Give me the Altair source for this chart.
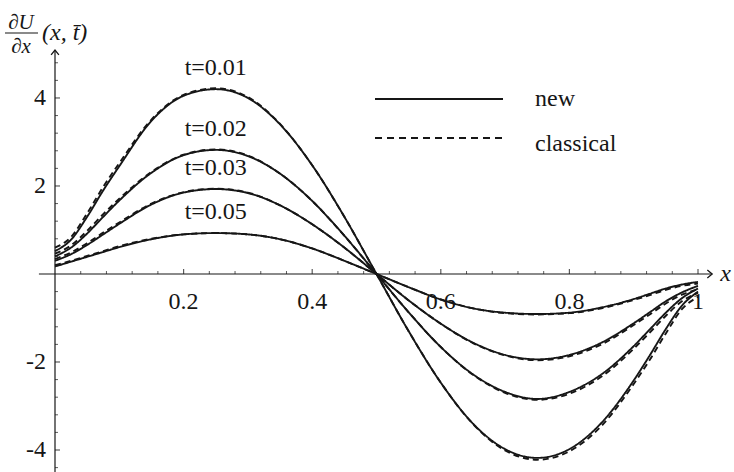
import altair as alt
import pandas as pd

# Sample positions along x
x_pts = [0.0, 0.025, 0.05, 0.075, 0.1, 0.15, 0.2, 0.25, 0.3, 0.35, 0.4, 0.45, 0.5,
         0.55, 0.6, 0.65, 0.7, 0.75, 0.8, 0.85, 0.9, 0.925, 0.95, 0.975, 1.0]

t_labels = ["t=0.01", "t=0.02", "t=0.03", "t=0.05"]

# dU/dx(x, t) for the new scheme
new_001 = [0.52, 0.78, 1.30, 1.90, 2.45, 3.48, 4.05, 4.20, 4.00, 3.40, 2.47, 1.30, 0.00,
           -1.30, -2.47, -3.40, -3.98, -4.18, -3.98, -3.38, -2.42, -1.85, -1.25, -0.72, -0.40]
new_002 = [0.40, 0.60, 0.92, 1.30, 1.67, 2.30, 2.70, 2.82, 2.68, 2.28, 1.66, 0.87, 0.00,
           -0.87, -1.66, -2.28, -2.68, -2.84, -2.68, -2.28, -1.64, -1.26, -0.88, -0.55, -0.33]
new_003 = [0.30, 0.45, 0.66, 0.90, 1.14, 1.58, 1.85, 1.93, 1.84, 1.56, 1.13, 0.60, 0.00,
           -0.60, -1.13, -1.56, -1.84, -1.94, -1.84, -1.56, -1.12, -0.87, -0.62, -0.42, -0.27]
new_005 = [0.17, 0.28, 0.39, 0.50, 0.61, 0.79, 0.90, 0.93, 0.90, 0.79, 0.58, 0.30, 0.00,
           -0.30, -0.58, -0.78, -0.88, -0.91, -0.88, -0.76, -0.57, -0.45, -0.33, -0.24, -0.18]

# dU/dx(x, t) for the classical scheme
cls_001 = [0.60, 0.84, 1.38, 1.98, 2.52, 3.51, 4.07, 4.22, 4.02, 3.41, 2.47, 1.30, 0.00,
           -1.30, -2.47, -3.41, -4.01, -4.22, -4.03, -3.45, -2.50, -1.95, -1.35, -0.80, -0.52]
cls_002 = [0.46, 0.65, 0.98, 1.36, 1.71, 2.32, 2.71, 2.83, 2.69, 2.28, 1.66, 0.87, 0.00,
           -0.87, -1.66, -2.29, -2.70, -2.86, -2.72, -2.33, -1.70, -1.33, -0.95, -0.62, -0.43]
cls_003 = [0.34, 0.49, 0.70, 0.94, 1.17, 1.60, 1.86, 1.94, 1.85, 1.56, 1.13, 0.60, 0.00,
           -0.60, -1.13, -1.57, -1.85, -1.96, -1.87, -1.60, -1.16, -0.92, -0.67, -0.47, -0.35]
cls_005 = [0.20, 0.30, 0.41, 0.52, 0.63, 0.80, 0.90, 0.93, 0.90, 0.79, 0.58, 0.30, 0.00,
           -0.30, -0.58, -0.78, -0.89, -0.92, -0.89, -0.78, -0.59, -0.48, -0.36, -0.27, -0.22]

new_vals = [new_001, new_002, new_003, new_005]
cls_vals = [cls_001, cls_002, cls_003, cls_005]

x_major = [0.2, 0.4, 0.6, 0.8, 1.0]
x_major_text = ["0.2", "0.4", "0.6", "0.8", "1"]
x_minor = [round(k * 0.04, 2) for k in range(1, 25) if k % 5]
y_major = [-4, -2, 2, 4]
y_major_text = ["-4", "-2", "2", "4"]
y_minor = [round(k * 0.4, 1) for k in range(-11, 13) if k % 5]

rows = []
for lab, nv, cv in zip(t_labels, new_vals, cls_vals):
    for method, vals in (("new", nv), ("classical", cv)):
        for x, y in zip(x_pts, vals):
            rows.append({"x": x, "y": y, "t": lab, "method": method, "series": lab + method})
df = pd.DataFrame(rows)

Y_MIN, Y_MAX = -4.5, 5.09
X_LO, X_HI = -0.025, 1.022
W, H = 643, 422
SERIF = "Times New Roman, Liberation Serif, serif"
INK = "#161616"
FS = 24

xs = alt.Scale(domain=[0, 1], nice=False, zero=False)
ys = alt.Scale(domain=[Y_MIN, Y_MAX], nice=False, zero=False)
one = pd.DataFrame({"k": [0]})

curves = alt.Chart(df).mark_line(color=INK, strokeWidth=1.9, interpolate="monotone").encode(
    x=alt.X("x:Q", scale=xs, axis=None),
    y=alt.Y("y:Q", scale=ys, axis=None),
    strokeDash=alt.StrokeDash("method:N",
                              scale=alt.Scale(domain=["new", "classical"], range=[[1, 0], [6, 4]]),
                              legend=None),
    detail="series:N",
    order=alt.Order("x:Q"),
)

# Axes crossing at the origin
x_line = alt.Chart(pd.DataFrame({"a": [X_LO], "b": [X_HI], "c": [0.0]})).mark_rule(
    color=INK, strokeWidth=1.2).encode(x="a:Q", x2="b:Q", y="c:Q")
y_line = alt.Chart(pd.DataFrame({"a": [0.0], "b": [Y_MIN], "c": [Y_MAX]})).mark_rule(
    color=INK, strokeWidth=1.2).encode(x="a:Q", y="b:Q", y2="c:Q")

x_arrow = alt.Chart(pd.DataFrame({"a": [X_HI], "c": [0.0]})).mark_point(
    shape="M-1.6,-1.3L0,0L-1.6,1.3", size=36, filled=False,
    stroke=INK, strokeWidth=1.3, opacity=1).encode(x="a:Q", y="c:Q")
y_arrow = alt.Chart(pd.DataFrame({"a": [0.0], "c": [Y_MAX]})).mark_point(
    shape="M-1.3,1.6L0,0L1.3,1.6", size=36, filled=False,
    stroke=INK, strokeWidth=1.3, opacity=1).encode(x="a:Q", y="c:Q")

xmaj_df = pd.DataFrame({"v": x_major, "label": x_major_text, "z": 0.0})
ymaj_df = pd.DataFrame({"v": y_major, "label": y_major_text, "z": 0.0})
xmin_df = pd.DataFrame({"v": x_minor, "z": 0.0})
ymin_df = pd.DataFrame({"v": y_minor, "z": 0.0})

x_ticks_major = alt.Chart(xmaj_df).mark_tick(orient="vertical", size=5, thickness=1.2,
                                             color=INK, yOffset=-2.5).encode(x="v:Q", y="z:Q")
x_ticks_minor = alt.Chart(xmin_df).mark_tick(orient="vertical", size=3, thickness=1,
                                             color=INK, yOffset=-1.5).encode(x="v:Q", y="z:Q")
y_ticks_major = alt.Chart(ymaj_df).mark_tick(orient="horizontal", size=5, thickness=1.2,
                                             color=INK, xOffset=2.5).encode(y="v:Q", x="z:Q")
y_ticks_minor = alt.Chart(ymin_df).mark_tick(orient="horizontal", size=3, thickness=1,
                                             color=INK, xOffset=1.5).encode(y="v:Q", x="z:Q")

x_tick_labels = alt.Chart(xmaj_df).mark_text(font=SERIF, fontSize=FS, color=INK,
                                             baseline="middle", dy=28).encode(
    x="v:Q", y="z:Q", text="label:N")
y_tick_labels = alt.Chart(ymaj_df).mark_text(font=SERIF, fontSize=FS, color=INK,
                                             align="right", baseline="middle", dx=-9).encode(
    y="v:Q", x="z:Q", text="label:N")

x_name = alt.Chart(pd.DataFrame({"a": [X_HI], "c": [0.0]})).mark_text(
    text="x", font=SERIF, fontStyle="italic", fontSize=FS, color=INK,
    align="left", baseline="middle", dx=8).encode(x="a:Q", y="c:Q")

# y-axis name as a stacked fraction followed by the argument list
frac_top = alt.Chart(one).mark_text(text="\u2202U", font=SERIF, fontStyle="italic",
                                    fontSize=21, color=INK, align="center",
                                    baseline="alphabetic").encode(
    x=alt.value(-34), y=alt.value(-21))
frac_bar = alt.Chart(one).mark_rule(color=INK, strokeWidth=1.2).encode(
    x=alt.value(-50), x2=alt.value(-17), y=alt.value(-17))
frac_bot = alt.Chart(one).mark_text(text="\u2202x", font=SERIF, fontStyle="italic",
                                    fontSize=21, color=INK, align="center",
                                    baseline="top").encode(
    x=alt.value(-34), y=alt.value(-14))
args = alt.Chart(one).mark_text(text="(x, t\u0304)", font=SERIF, fontStyle="italic",
                                fontSize=FS, color=INK, align="left",
                                baseline="middle").encode(
    x=alt.value(-13), y=alt.value(-17))

# Curve labels above each maximum
lab_df = pd.DataFrame({"t": t_labels, "peak": [max(v) for v in new_vals], "xp": 0.25})
curve_labels = alt.Chart(lab_df).mark_text(font=SERIF, fontSize=FS, color=INK,
                                           baseline="middle", dy=-21).encode(
    x="xp:Q", y="peak:Q", text="t:N")

# Legend
leg_solid = alt.Chart(one).mark_rule(color=INK, strokeWidth=1.9).encode(
    x=alt.value(320), x2=alt.value(448), y=alt.value(49))
leg_dash = alt.Chart(one).mark_rule(color=INK, strokeWidth=1.9, strokeDash=[7, 5]).encode(
    x=alt.value(320), x2=alt.value(448), y=alt.value(88))
leg_new = alt.Chart(one).mark_text(text="new", font=SERIF, fontSize=FS, color=INK,
                                   align="left", baseline="alphabetic").encode(
    x=alt.value(480), y=alt.value(56))
leg_cls = alt.Chart(one).mark_text(text="classical", font=SERIF, fontSize=FS, color=INK,
                                   align="left", baseline="alphabetic").encode(
    x=alt.value(480), y=alt.value(101))

chart = alt.layer(
    curves,
    x_line, y_line, x_arrow, y_arrow,
    x_ticks_minor, x_ticks_major, y_ticks_minor, y_ticks_major,
    x_tick_labels, y_tick_labels, x_name,
    frac_top, frac_bar, frac_bot, args,
    curve_labels,
    leg_solid, leg_dash, leg_new, leg_cls,
).properties(
    width=W, height=H,
    autosize=alt.AutoSizeParams(type="none"),
    padding={"left": 55, "top": 50, "right": 36, "bottom": 0},
    background="white",
).configure_view(stroke=None)

chart.save("out.html", embed_options={"renderer": "svg", "actions": False})
